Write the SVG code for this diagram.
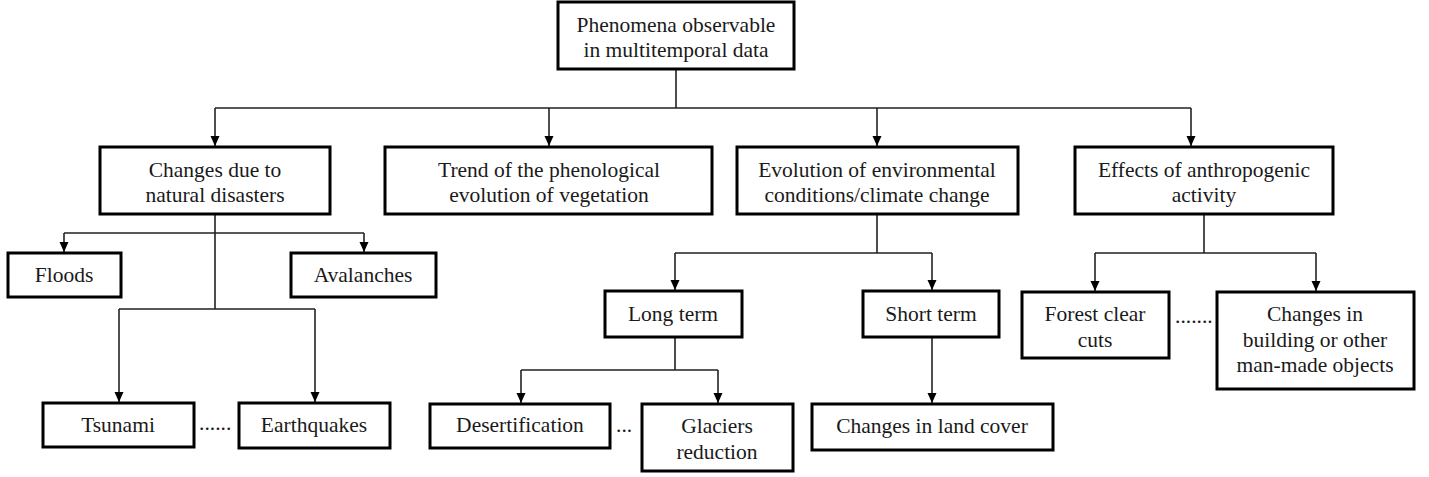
<svg xmlns="http://www.w3.org/2000/svg" width="1429" height="477" viewBox="0 0 1429 477">
<style>
.box{fill:#fff;stroke:#000;stroke-width:3}
.t{font-family:'Liberation Serif','Times New Roman',Times,serif;font-size:21.5px;fill:#1a1a1a;text-anchor:middle}
.c{fill:none;stroke:#222;stroke-width:1.6}
.d{font-family:'Liberation Serif','Times New Roman',Times,serif;font-size:21.5px;fill:#1a1a1a}
</style>
<defs>
<marker id="ah" markerWidth="10" markerHeight="10" refX="10" refY="5" orient="auto" markerUnits="userSpaceOnUse"><path d="M0,0.5 L10,5 L0,9.5 z" fill="#000"/></marker>
</defs>
<rect width="1429" height="477" fill="#fff"/>
<g id="connectors">
<path class="c" d="M676,69 V108 M215,108 H1191"/>
<path class="c" d="M215,108 V146" marker-end="url(#ah)"/>
<path class="c" d="M549,108 V146" marker-end="url(#ah)"/>
<path class="c" d="M877,108 V146" marker-end="url(#ah)"/>
<path class="c" d="M1191,108 V146" marker-end="url(#ah)"/>
<path class="c" d="M215,214 V309 M64,233 H364 M119,309 H315"/>
<path class="c" d="M64,233 V252" marker-end="url(#ah)"/>
<path class="c" d="M364,233 V252" marker-end="url(#ah)"/>
<path class="c" d="M119,309 V402" marker-end="url(#ah)"/>
<path class="c" d="M315,309 V402" marker-end="url(#ah)"/>
<path class="c" d="M877,214 V253 M675,253 H932"/>
<path class="c" d="M675,253 V290" marker-end="url(#ah)"/>
<path class="c" d="M932,253 V290" marker-end="url(#ah)"/>
<path class="c" d="M675,337 V370 M521,370 H718"/>
<path class="c" d="M521,370 V403" marker-end="url(#ah)"/>
<path class="c" d="M718,370 V403" marker-end="url(#ah)"/>
<path class="c" d="M932,337 V403" marker-end="url(#ah)"/>
<path class="c" d="M1204,214 V253 M1095,253 H1316"/>
<path class="c" d="M1095,253 V291" marker-end="url(#ah)"/>
<path class="c" d="M1316,253 V291" marker-end="url(#ah)"/>
</g>
<g id="root"><rect class="box" x="558" y="2" width="236" height="67"/><text class="t" x="676" y="32">Phenomena observable</text><text class="t" x="676" y="57">in multitemporal data</text></g>
<g id="natural"><rect class="box" x="100" y="147" width="230" height="67"/><text class="t" x="215" y="177">Changes due to</text><text class="t" x="215" y="202">natural disasters</text></g>
<g id="phenology"><rect class="box" x="385" y="147" width="327" height="67"/><text class="t" x="549" y="177">Trend of the phenological</text><text class="t" x="549" y="202">evolution of vegetation</text></g>
<g id="environment"><rect class="box" x="737" y="147" width="281" height="67"/><text class="t" x="877" y="177">Evolution of environmental</text><text class="t" x="877" y="202">conditions/climate change</text></g>
<g id="anthropogenic"><rect class="box" x="1075" y="147" width="258" height="67"/><text class="t" x="1204" y="177">Effects of anthropogenic</text><text class="t" x="1204" y="202">activity</text></g>
<g id="floods"><rect class="box" x="8" y="253" width="113" height="44"/><text class="t" x="64" y="282">Floods</text></g>
<g id="avalanches"><rect class="box" x="291" y="253" width="145" height="44"/><text class="t" x="363" y="282">Avalanches</text></g>
<g id="tsunami"><rect class="box" x="43" y="403" width="151" height="44"/><text class="t" x="118" y="432">Tsunami</text></g>
<g id="earthquakes"><rect class="box" x="239" y="403" width="151" height="45"/><text class="t" x="314" y="432">Earthquakes</text></g>
<g id="longterm"><rect class="box" x="605" y="291" width="137" height="46"/><text class="t" x="673" y="321">Long term</text></g>
<g id="shortterm"><rect class="box" x="863" y="291" width="136" height="46"/><text class="t" x="931" y="321">Short term</text></g>
<g id="desertification"><rect class="box" x="430" y="404" width="180" height="44"/><text class="t" x="520" y="432">Desertification</text></g>
<g id="glaciers"><rect class="box" x="642" y="404" width="151" height="67"/><text class="t" x="717" y="433">Glaciers</text><text class="t" x="717" y="459">reduction</text></g>
<g id="landcover"><rect class="box" x="812" y="404" width="241" height="46"/><text class="t" x="932" y="433">Changes in land cover</text></g>
<g id="forest"><rect class="box" x="1022" y="292" width="147" height="66"/><text class="t" x="1095" y="321">Forest clear</text><text class="t" x="1095" y="347">cuts</text></g>
<g id="buildings"><rect class="box" x="1217" y="292" width="197" height="97"/><text class="t" x="1315" y="321">Changes in</text><text class="t" x="1315" y="347">building or other</text><text class="t" x="1315" y="372">man-made objects</text></g>
<g id="ellipses">
<text class="d" x="199" y="430">......</text>
<text class="d" x="616" y="432">...</text>
<text class="d" x="1175" y="323">.......</text>
</g>
</svg>
